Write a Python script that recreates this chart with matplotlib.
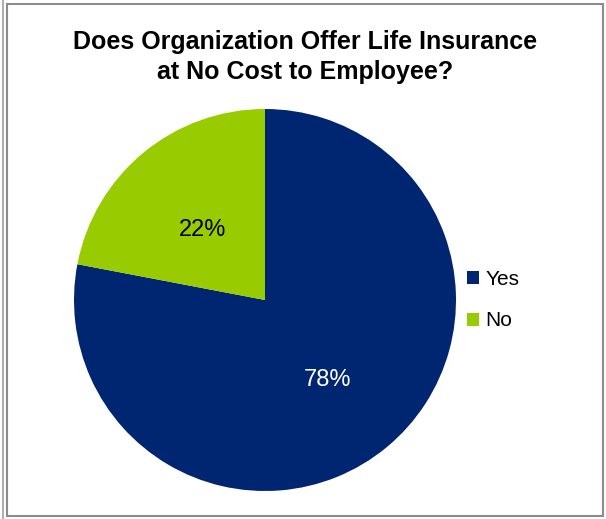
import matplotlib.pyplot as plt
from matplotlib.patches import Rectangle
from matplotlib.lines import Line2D

labels = ["Yes", "No"]
shares = [78, 22]
colours = ["#002571", "#99CC00"]
title = "Does Organization Offer Life Insurance\nat No Cost to Employee?"

plt.rcParams["font.family"] = ["Liberation Sans", "DejaVu Sans"]

fig = plt.figure(figsize=(6.06, 5.19), dpi=100)

# grey chart frame plus the extra rule on the far left
fig.add_artist(Rectangle((7 / 606, 3 / 519), 596 / 606, 512 / 519,
                         transform=fig.transFigure, fill=False,
                         edgecolor="#8c8c8c", linewidth=1.5))
fig.add_artist(Line2D([3 / 606, 3 / 606], [0, 1], transform=fig.transFigure,
                      color="#a0a0a0", linewidth=1.2))

ax = fig.add_axes([74 / 606, 28 / 519, 382 / 606, 382 / 519])
wedges, texts, autotexts = ax.pie(
    shares, colors=colours, startangle=90, counterclock=False,
    autopct="%d%%", pctdistance=0.51, radius=1,
    wedgeprops=dict(linewidth=0),
    textprops=dict(fontsize=17),
)
autotexts[0].set_color("white")
autotexts[1].set_color("black")
# nudge the percentage labels slightly below their wedge centroids
for t in autotexts:
    px, py = t.get_position()
    t.set_position((px, py - 0.025))
ax.set_xlim(-1, 1)
ax.set_ylim(-1, 1)
ax.set_aspect("equal")

fig.text(305 / 606, 1 - 57 / 519, title, ha="center", va="center",
         fontsize=18, fontweight="bold", linespacing=1.3)

fig.legend(wedges, labels, loc="center left",
           bbox_to_anchor=(448 / 606, 1 - 300 / 519), frameon=False,
           fontsize=15, handlelength=0.6, handleheight=0.6,
           handletextpad=0.3, labelspacing=1.1)

fig.savefig("out.png", dpi=100)
